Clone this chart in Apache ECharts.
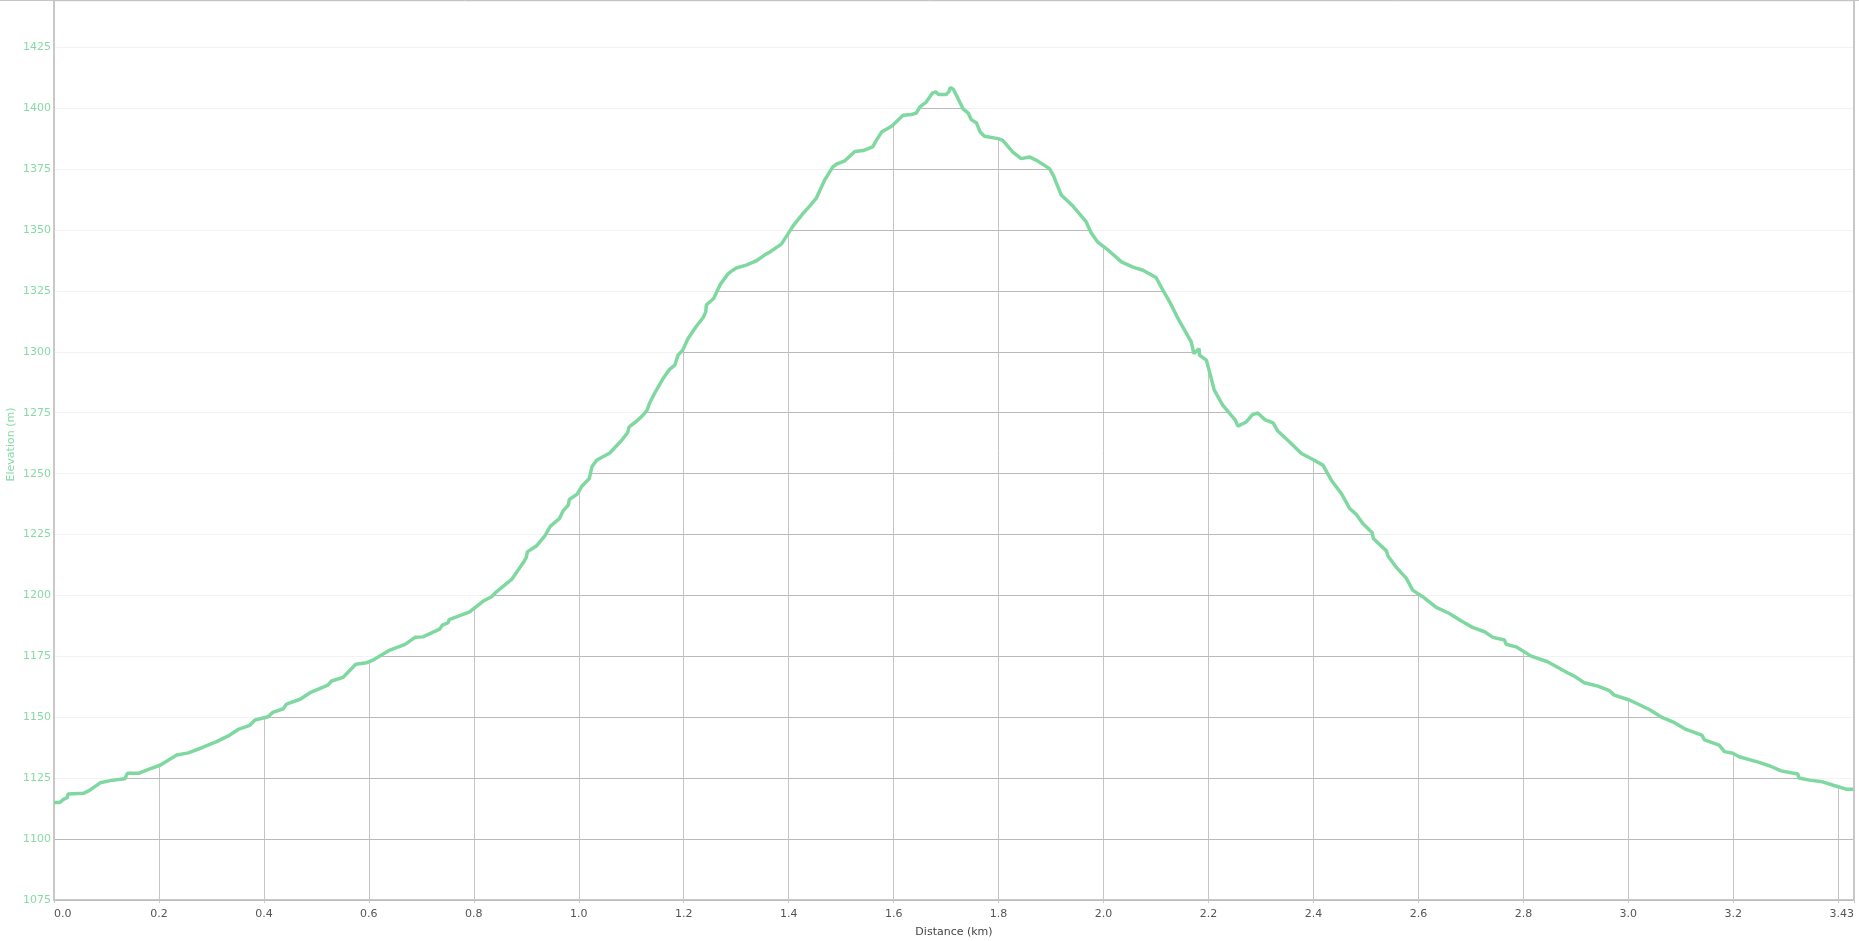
<!DOCTYPE html>
<html>
<head>
<meta charset="utf-8">
<script src="https://cdn.jsdelivr.net/npm/echarts@6/dist/echarts.min.js"></script>
<style>
html,body{margin:0;padding:0;background:#fff;}
#chart{width:1859px;height:941px;}
</style>
</head>
<body>
<div id="chart"></div>
<script>
// Distance (km)
const dist = [
0.000,0.011,0.018,0.025,0.027,0.056,0.067,0.088,0.107,0.135,0.140,0.161,0.180,0.202,0.234,0.256,0.284,0.310,0.335,0.351,
0.373,0.383,0.408,0.417,0.437,0.443,0.469,0.488,0.522,0.529,0.551,0.575,0.596,0.608,0.640,0.669,0.688,0.703,0.735,0.740,
0.751,0.753,0.792,0.818,0.834,0.843,0.872,0.894,0.900,0.902,0.919,0.935,0.946,0.963,0.970,0.980,0.982,0.997,1.005,1.020,
1.025,1.034,1.059,1.081,1.093,1.096,1.110,1.120,1.130,1.135,1.146,1.162,1.173,1.183,1.189,1.198,1.208,1.223,1.237,1.242,
1.243,1.257,1.270,1.284,1.289,1.300,1.319,1.338,1.354,1.364,1.386,1.399,1.408,1.427,1.440,1.453,1.469,1.484,1.491,1.507,
1.526,1.542,1.560,1.567,1.577,1.596,1.618,1.634,1.643,1.650,1.662,1.674,1.680,1.686,1.700,1.705,1.708,1.714,1.729,1.732,
1.742,1.748,1.758,1.765,1.773,1.799,1.808,1.827,1.843,1.859,1.872,1.897,1.905,1.909,1.919,1.940,1.967,1.976,1.989,2.010,
2.034,2.056,2.075,2.100,2.113,2.126,2.142,2.167,2.172,2.182,2.183,2.196,2.211,2.227,2.251,2.256,2.272,2.284,2.294,2.307,
2.323,2.332,2.354,2.377,2.399,2.418,2.434,2.453,2.469,2.481,2.494,2.512,2.514,2.539,2.542,2.558,2.577,2.589,2.608,2.634,
2.659,2.681,2.703,2.726,2.742,2.764,2.767,2.786,2.815,2.846,2.884,2.897,2.916,2.942,2.964,2.973,3.002,3.040,3.062,3.088,
3.110,3.140,3.145,3.173,3.183,3.199,3.211,3.246,3.270,3.291,3.323,3.325,3.345,3.370,3.389,3.415,3.429
];
// Elevation (m)
const elev = [
1115,1115,1116.3,1117,1118.5,1118.8,1119.9,1123.1,1124,1124.8,1127,1127,1128.6,1130.3,1134.5,1135.4,1137.7,1140,1142.7,1145,
1146.7,1148.9,1150.2,1152,1153.5,1155.4,1157.4,1160.1,1163.2,1164.9,1166.4,1171.8,1172.4,1173.5,1177.6,1179.9,1182.8,1183,1186.2,1187.8,
1188.8,1190.1,1193.3,1197.7,1199.5,1201.5,1206.6,1213.4,1215.6,1217.9,1220.3,1224.4,1228.5,1231.5,1234.7,1237.1,1239.4,1241.6,1244.6,1248,
1252.8,1255.5,1258.5,1263.5,1266.8,1269.2,1271.5,1273.5,1276,1279,1283.6,1289.5,1292.8,1294.5,1298.6,1300.7,1305.4,1310.2,1314.1,1316.4,
1319.2,1321.9,1327.8,1331.9,1332.8,1334.4,1335.6,1337.3,1339.7,1341,1344.2,1348.5,1351.6,1356.7,1359.8,1363.2,1370.7,1375.9,1377,1378.4,
1382.2,1382.6,1384.1,1386.8,1390.2,1392.6,1397.1,1397.4,1398,1400.5,1402.5,1406.2,1406.7,1405.6,1405.6,1406.7,1408.5,1407.7,1401.2,1399.8,
1398,1395.3,1393.9,1390.2,1388.5,1387.5,1386.8,1382,1379.3,1380,1378.6,1375.2,1372.1,1369.9,1364.5,1360.2,1353.3,1349,1345,1341.5,
1336.9,1334.8,1333.5,1330.5,1325.3,1320.5,1313.6,1304.1,1299.3,1301.3,1298.6,1296.6,1284.3,1278.1,1272,1269.5,1271.2,1274.3,1274.9,1272.2,
1270.8,1267.5,1263.1,1258.3,1255.8,1253.5,1247.3,1241.9,1235.7,1233.4,1229.5,1225.7,1223.4,1218.3,1216.2,1211.5,1207,1202.2,1199.5,1195.1,
1192.6,1189.6,1186.9,1185.1,1182.8,1181.7,1180,1178.9,1175.1,1172.8,1168.3,1166.9,1164.2,1162.8,1160.9,1159.1,1157.1,1153.2,1150.2,1147.8,
1145,1142.7,1140.7,1138.6,1135.9,1135.2,1133.8,1131.7,1130,1128,1126.7,1125.1,1124.2,1123.5,1122.2,1120.5,1120.5
];
// Axis settings
const xMin = 0, xMax = 3.43, xStep = 0.2;
const xMaxLabel = '3.43';
const yMin = 1075, yMax = 1444, yStep = 25;
const xTitle = 'Distance (km)';
const yTitle = 'Elevation (m)';

const points = dist.map((d, i) => [d, elev[i]]);
const green = '#7fd8a0';
const labelGreen = '#86daa6';
const gridDark = '#c4c4c4';
const axisGray = '#c8c8c8';
const font = 'DejaVu Sans, Verdana, sans-serif';

const chart = echarts.init(document.getElementById('chart'), null, {renderer: 'canvas'});
chart.setOption({
  animation: false,
  backgroundColor: '#fff',
  grid: {left: 54, right: 5, top: 1, bottom: 41, containLabel: false, outerBoundsMode: 'none'},
  graphic: [{
    type: 'line', silent: true, z: 10,
    shape: {x1: 0, y1: 0.5, x2: 1859, y2: 0.5},
    style: {stroke: '#c4c4c4', lineWidth: 1}
  }],
  xAxis: [{
    type: 'value', min: xMin, max: xMax, interval: xStep,
    name: xTitle, nameLocation: 'middle', nameGap: 27,
    nameTextStyle: {color: '#444', fontSize: 11, fontFamily: font},
    axisLine: {show: true, onZero: false, lineStyle: {color: axisGray, width: 2}},
    axisTick: {show: true, length: 3, lineStyle: {color: axisGray}},
    axisLabel: {
      color: '#555', fontSize: 11, fontFamily: font, margin: 9,
      showMinLabel: true, showMaxLabel: true, hideOverlap: false,
      alignMinLabel: 'left', alignMaxLabel: 'right',
      formatter: v => {
        if (Math.abs(v - xMax) < 1e-6) return xMaxLabel;
        if (xMax - v < 0.1) return '';
        return v.toFixed(1);
      }
    },
    splitLine: {show: true, lineStyle: {color: gridDark, width: 1}}
  }],
  yAxis: [{
    type: 'value', min: yMin, max: yMax, interval: yStep,
    name: yTitle, nameLocation: 'middle', nameGap: 37, nameMoveOverlap: false,
    nameTextStyle: {color: labelGreen, fontSize: 11, fontFamily: font, padding: [0, 0, 0, 12]},
    axisLine: {show: false},
    axisTick: {show: false},
    axisLabel: {color: labelGreen, fontSize: 11, fontFamily: font, margin: 3, showMaxLabel: false,
      formatter: v => String(v)},
    splitLine: {show: true, lineStyle: {color: gridDark, width: 1}}
  }, {
    type: 'value', min: yMin, max: yMax, interval: yStep, position: 'left', z: 3, offset: 0,
    axisLine: {show: true, onZero: false, lineStyle: {color: axisGray, width: 2}},
    axisTick: {show: false},
    axisLabel: {show: false},
    splitLine: {show: true, lineStyle: {color: 'rgba(0,0,0,0.05)', width: 1}}
  }, {
    type: 'value', min: yMin, max: yMax, interval: yStep, position: 'right', z: 3, offset: 0,
    axisLine: {show: true, onZero: false, lineStyle: {color: axisGray, width: 2}},
    axisTick: {show: false},
    axisLabel: {show: false},
    splitLine: {show: false}
  }],
  series: [{
    type: 'line', data: points, yAxisIndex: 0, z: 2, silent: true,
    showSymbol: false, symbol: 'none',
    lineStyle: {width: 0, opacity: 0},
    areaStyle: {color: '#fff', opacity: 1, origin: 'end'}
  }, {
    type: 'line', data: points, yAxisIndex: 0, z: 5,
    showSymbol: false, symbol: 'none',
    lineStyle: {width: 3.5, color: green}
  }]
});
</script>
</body>
</html>
